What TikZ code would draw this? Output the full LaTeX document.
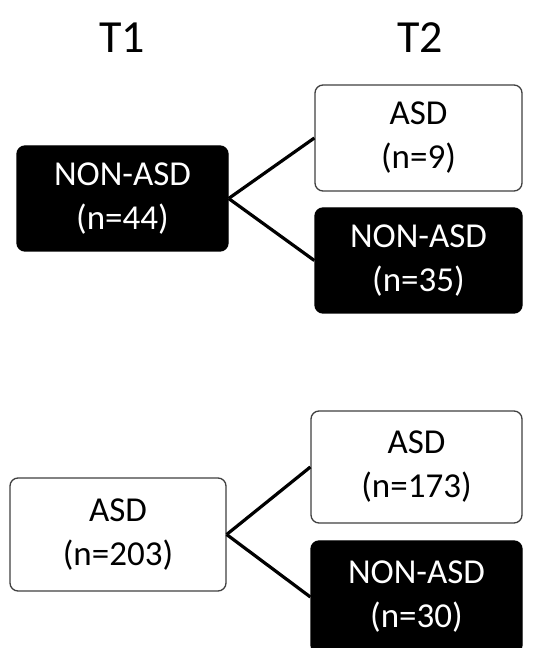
\documentclass[tikz,border=0pt]{standalone}
\usepackage{fontspec}
\setmainfont{Carlito}
\usepackage{tikz}
\usetikzlibrary{shapes.geometric, arrows}
\tikzstyle{head} = [font=\fontsize{46}{50}\selectfont, text=black]
\tikzstyle{asd} = [rectangle, rounded corners=8pt, minimum width=207pt, minimum height=106pt, text centered, align=center, draw=black!75, line width=1.3pt, fill=white, font=\fontsize{35}{44}\selectfont]
\tikzstyle{nonasd} = [asd, draw=black, fill=black, text=white]
\tikzstyle{link} = [line width=3.2pt, black]

\begin{document}
\begin{tikzpicture}[node distance=296pt]
        \useasboundingbox (0,0) rectangle (545pt,648pt);
        \node (t1) [head] at (122pt,610pt) {T1};
        \node (t2) [head] at (420pt,610pt) {T2};

        % first group
        \node (non44) [nonasd, minimum width=211pt, minimum height=105pt] at (122.5pt,449.5pt) {NON-ASD\\(n=44)};
        \node (asd9) [asd, right of=non44, yshift=+60.5pt] {ASD\\(n=9)};
        \node (non35) [nonasd, right of=non44, yshift=-62pt, minimum height=105pt] {NON-ASD\\(n=35)};

        % second group
        \node (asd203) [asd, below of=non44, xshift=-4.5pt, yshift=-40pt, minimum width=216pt, minimum height=113pt] {ASD\\(n=203)};
        \node (asd173) [asd, right of=asd203, xshift=2.5pt, yshift=+67.5pt, minimum width=211pt, minimum height=112pt] {ASD\\(n=173)};
        \node (non30) [nonasd, right of=asd203, xshift=2.5pt, yshift=-62.5pt, minimum width=211pt, minimum height=112pt] {NON-ASD\\(n=30)};

        \draw [link] (non44.east) -- (asd9.west);
        \draw [link] (non44.east) -- (non35.west);
        \draw [link] (asd203.east) -- (asd173.west);
        \draw [link] (asd203.east) -- (non30.west);
    \end{tikzpicture}
\end{document}
